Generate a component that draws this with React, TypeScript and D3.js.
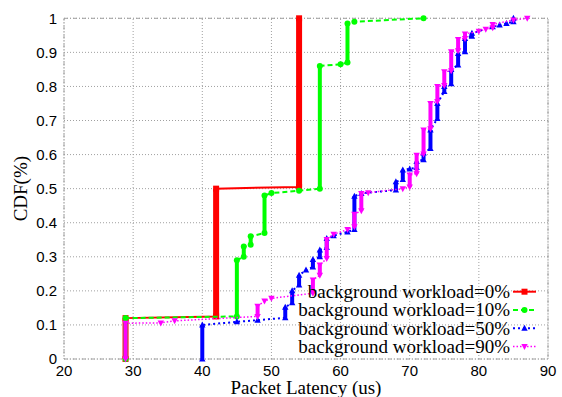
import React from 'react';
import * as d3 from 'd3';

// each step: [latency (us), cdf at bottom of the step, cdf at top of the step]
type Step = [number, number, number];

const load0: Step[] = [
  [28.9, 0, 0.12], [42, 0.125, 0.5], [54, 0.505, 1.0],
];

const load10: Step[] = [
  [28.9, 0, 0.12], [45, 0.125, 0.29], [46, 0.3, 0.33], [47, 0.335, 0.36],
  [49, 0.37, 0.48], [50, 0.487, 0.487], [54, 0.494, 0.494], [57, 0.5, 0.86],
  [60, 0.865, 0.865], [61, 0.87, 0.985], [62, 0.99, 0.99], [72, 1.0, 1.0],
];

const load50: Step[] = [
  [40, 0, 0.1], [45, 0.109, 0.109], [48, 0.114, 0.114], [52, 0.121, 0.152],
  [53, 0.165, 0.2], [54, 0.217, 0.246], [55, 0.261, 0.261], [56, 0.27, 0.292],
  [57, 0.3, 0.32], [58, 0.327, 0.354], [59, 0.362, 0.362], [61, 0.373, 0.373],
  [62, 0.38, 0.478], [63, 0.486, 0.486], [68, 0.496, 0.52], [69, 0.527, 0.555],
  [70, 0.558, 0.558], [71, 0.562, 0.58], [72, 0.585, 0.605], [73, 0.618, 0.672],
  [74, 0.706, 0.75], [75, 0.785, 0.8], [76, 0.808, 0.85], [77, 0.863, 0.897],
  [78, 0.902, 0.941], [79, 0.947, 0.956], [82, 0.975, 0.975], [83, 0.98, 0.98],
  [84, 0.985, 0.985], [85, 0.99, 1.0],
];

const load90: Step[] = [
  [28.9, 0, 0.105], [34, 0.106, 0.106], [36, 0.112, 0.112], [48, 0.125, 0.155],
  [49, 0.17, 0.17], [50, 0.178, 0.178], [56, 0.193, 0.232], [57, 0.246, 0.276],
  [58, 0.295, 0.351], [59, 0.366, 0.366], [61, 0.38, 0.38], [62, 0.388, 0.425],
  [63, 0.435, 0.486], [64, 0.488, 0.488], [69, 0.5, 0.5], [70, 0.505, 0.54],
  [71, 0.544, 0.598], [72, 0.602, 0.672], [73, 0.676, 0.75], [74, 0.756, 0.8],
  [75, 0.803, 0.843], [76, 0.846, 0.902], [77, 0.905, 0.938], [78, 0.941, 0.954],
  [80, 0.962, 0.962], [81, 0.968, 0.968], [82, 0.972, 0.982], [85, 0.995, 0.995],
  [87, 1.0, 1.0],
];

const seriesNames = [
  'background workload=0%',
  'background workload=10%',
  'background workload=50%',
  'background workload=90%',
];

const xTicks = [20, 30, 40, 50, 60, 70, 80, 90];
const yTicks = [0, 0.1, 0.2, 0.3, 0.4, 0.5, 0.6, 0.7, 0.8, 0.9, 1];

const W = 562;
const H = 397;
const margin = { top: 18.3, right: 14, bottom: 38, left: 64 };

const styles = [
  { color: '#ff0000', width: 2, dash: '', bar: 6, marker: 'square' },
  { color: '#00ff00', width: 2, dash: '5,3', bar: 4, marker: 'circle' },
  { color: '#0000ff', width: 2, dash: '2,3', bar: 4, marker: 'triangle' },
  { color: '#ff00ff', width: 1.5, dash: '1.5,2', bar: 4, marker: 'down' },
];

function Marker({ kind, x, y, color }: { kind: string; x: number; y: number; color: string }) {
  if (kind === 'square') return <rect x={x - 3} y={y - 3} width={6} height={6} fill={color} />;
  if (kind === 'circle') return <circle cx={x} cy={y} r={3} fill={color} />;
  if (kind === 'triangle')
    return <path d={`M${x},${y - 3.5}L${x + 3.2},${y + 2.5}L${x - 3.2},${y + 2.5}Z`} fill={color} />;
  return <path d={`M${x},${y + 3.5}L${x + 3.2},${y - 2.5}L${x - 3.2},${y - 2.5}Z`} fill={color} />;
}

export default function App() {
  const x = d3.scaleLinear().domain([20, 90]).range([margin.left, W - margin.right]);
  const y = d3.scaleLinear().domain([0, 1]).range([H - margin.bottom, margin.top]);
  const allSeries = [load0, load10, load50, load90];

  const line = d3.line<[number, number]>().x(d => x(d[0])).y(d => y(d[1]));

  const gridColor = '#a0a0a0';

  return (
    <svg width={W} height={H} style={{ position: 'absolute', left: 0, top: 0, background: '#fff' }}>
      {/* grid */}
      <g stroke={gridColor} strokeWidth={1} strokeDasharray="1,2">
        {xTicks.map(t => (
          <line key={'gx' + t} x1={x(t)} x2={x(t)} y1={y(0)} y2={y(1)} />
        ))}
        {yTicks.map(t => (
          <line key={'gy' + t} x1={x(20)} x2={x(90)} y1={y(t)} y2={y(t)} />
        ))}
      </g>
      <rect x={x(20)} y={y(1)} width={x(90) - x(20)} height={y(0) - y(1)}
        fill="none" stroke={gridColor} strokeWidth={1} strokeDasharray="4,2,1,2" />

      {/* tick labels */}
      <g fontFamily="'Liberation Sans', Arial, sans-serif" fontSize={15} fill="#000">
        {yTicks.map(t => (
          <text key={'ty' + t} x={x(20) - 7} y={y(t)} dy="0.36em" textAnchor="end">{t}</text>
        ))}
        {xTicks.map(t => (
          <text key={'tx' + t} x={x(t)} y={y(0) + 17} textAnchor="middle">{t}</text>
        ))}
      </g>

      {/* axis titles */}
      <g fontFamily="'Liberation Serif', 'Times New Roman', serif" fontSize={19} fill="#000">
        <text x={(x(20) + x(90)) / 2} y={H - 3} textAnchor="middle">Packet Latency (us)</text>
        <text transform={`translate(27,${(y(0) + y(1)) / 2}) rotate(-90)`} textAnchor="middle">CDF(%)</text>
      </g>

      {/* series */}
      {allSeries.map((s, i) => {
        const st = styles[i];
        const verts: [number, number][] = [];
        s.forEach(([lat, lo, hi]) => {
          verts.push([lat, lo]);
          if (hi !== lo) verts.push([lat, hi]);
        });
        return (
          <g key={'s' + i}>
            <path d={line(verts) || ''} fill="none" stroke={st.color} strokeWidth={st.width}
              strokeDasharray={st.dash || undefined} />
            {s.filter(d => d[2] !== d[1]).map((d, j) => (
              <line key={'b' + j} x1={x(d[0])} x2={x(d[0])} y1={y(d[1])} y2={y(d[2])}
                stroke={st.color} strokeWidth={st.bar} />
            ))}
            {s.map((d, j) => (
              <g key={'m' + j}>
                <Marker kind={st.marker} x={x(d[0])} y={y(d[1])} color={st.color} />
                {d[2] !== d[1] && <Marker kind={st.marker} x={x(d[0])} y={y(d[2])} color={st.color} />}
              </g>
            ))}
          </g>
        );
      })}

      {/* legend */}
      <g fontFamily="'Liberation Serif', 'Times New Roman', serif" fontSize={19} fill="#000">
        {seriesNames.map((name, i) => {
          const st = styles[i];
          const ly = 291.7 + i * 18.3;
          return (
            <g key={'l' + i}>
              <text x={510} y={ly} dy="0.33em" textAnchor="end">{name}</text>
              <line x1={513} x2={536} y1={ly} y2={ly} stroke={st.color} strokeWidth={st.width}
                strokeDasharray={st.dash || undefined} />
              <Marker kind={st.marker} x={524.5} y={ly} color={st.color} />
            </g>
          );
        })}
      </g>
    </svg>
  );
}
